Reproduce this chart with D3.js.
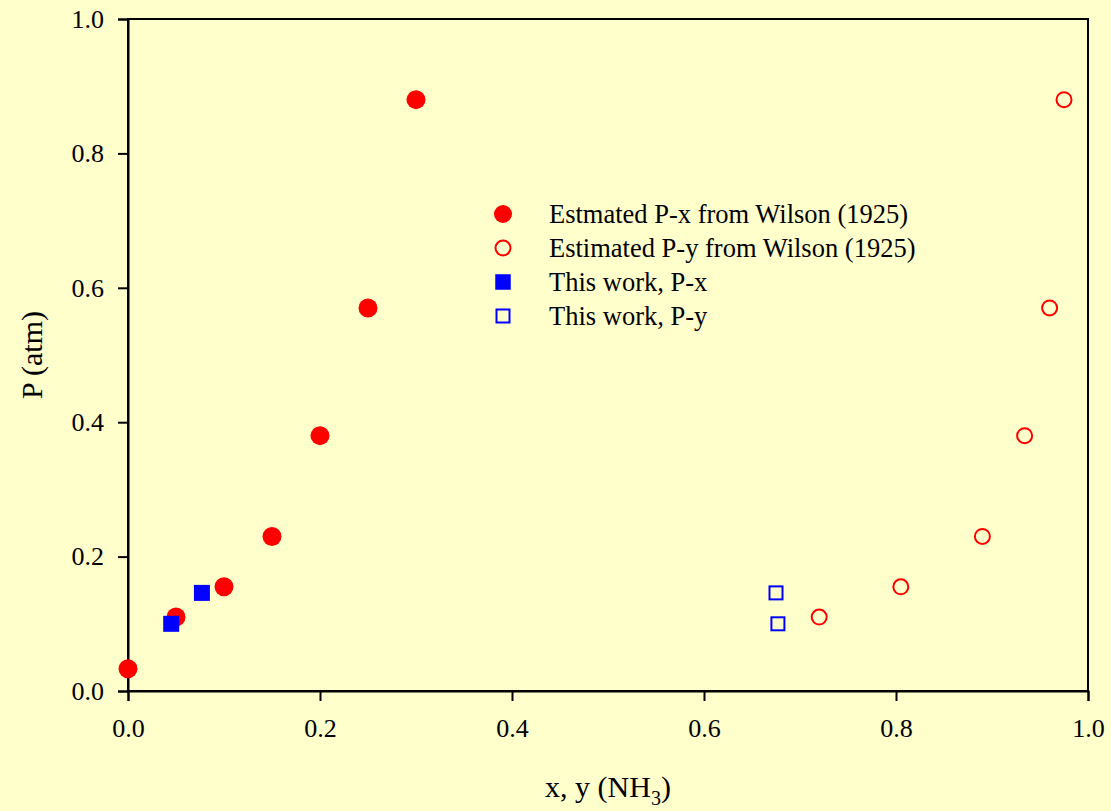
<!DOCTYPE html>
<html>
<head>
<meta charset="utf-8">
<script src="https://cdn.jsdelivr.net/npm/d3@7"></script>
<style>
  html, body { margin: 0; padding: 0; background: #ffffcc; }
  svg text { font-family: "Liberation Serif", "Times New Roman", serif; fill: #000; }
</style>
</head>
<body>
<div id="chart"></div>
<script>
// Wilson (1925) estimates
var wilsonPx = [[0, 0.033], [0.05, 0.11], [0.1, 0.155], [0.15, 0.23], [0.2, 0.38], [0.25, 0.57], [0.3, 0.88]];
var wilsonPy = [[0.72, 0.11], [0.805, 0.155], [0.89, 0.23], [0.934, 0.38], [0.96, 0.57], [0.975, 0.88]];
// this work
var workPx = [[0.045, 0.10], [0.077, 0.146]];
var workPy = [[0.677, 0.10], [0.675, 0.146]];

var xTicks = [0, 0.2, 0.4, 0.6, 0.8, 1.0];
var yTicks = [0, 0.2, 0.4, 0.6, 0.8, 1.0];
var legendLabels = ["Estmated P-x from Wilson (1925)", "Estimated P-y from Wilson (1925)", "This work, P-x", "This work, P-y"];

(function () {
  var W = 1111, H = 811,
    margin = {top: 19, right: 23, bottom: 120, left: 128},
    w = W - margin.left - margin.right,
    h = H - margin.top - margin.bottom;

  var svg = d3.select("#chart").append("svg")
    .attr("width", W)
    .attr("height", H);

  svg.append("rect").attr("width", W).attr("height", H).attr("fill", "#ffffcc");

  var g = svg.append("g").attr("transform", "translate(" + margin.left + "," + margin.top + ")");

  var x = d3.scaleLinear().domain([0, 1]).range([0, w]);
  var y = d3.scaleLinear().domain([0, 1]).range([h, 0]);

  // frame
  g.append("rect")
    .attr("width", w).attr("height", h)
    .attr("fill", "none").attr("stroke", "#000").attr("stroke-width", 2);

  var xAxis = g.append("g")
    .attr("transform", "translate(0," + h + ")")
    .call(d3.axisBottom(x).tickValues(xTicks).tickFormat(d3.format(".1f")).tickSize(10).tickPadding(18));
  var yAxis = g.append("g")
    .call(d3.axisLeft(y).tickValues(yTicks).tickFormat(d3.format(".1f")).tickSize(10).tickPadding(14));

  [xAxis, yAxis].forEach(function (a) {
    a.select(".domain").attr("stroke-width", 2);
    a.selectAll(".tick line").attr("stroke-width", 2);
    a.selectAll("text").attr("font-size", 26).attr("font-family", "Liberation Serif");
  });

  // axis titles
  var xt = svg.append("text")
    .attr("x", margin.left + w / 2)
    .attr("y", 797)
    .attr("text-anchor", "middle")
    .attr("font-size", 30);
  xt.append("tspan").text("x, y (NH");
  xt.append("tspan").attr("font-size", 20).attr("dy", 8).text("3");
  xt.append("tspan").attr("dy", -8).text(")");

  svg.append("text")
    .attr("transform", "translate(42," + (margin.top + h / 2) + ") rotate(-90)")
    .attr("text-anchor", "middle")
    .attr("font-size", 30)
    .text("P (atm)");

  // markers
  function circles(data, filled) {
    g.append("g").selectAll("circle").data(data).join("circle")
      .attr("cx", function (d) { return x(d[0]); })
      .attr("cy", function (d) { return y(d[1]); })
      .attr("r", filled ? 9.5 : 7.5)
      .attr("fill", filled ? "#ff0000" : "none")
      .attr("stroke", filled ? "none" : "#ff0000")
      .attr("stroke-width", 2);
  }
  function squares(data, filled) {
    var s = filled ? 16 : 13;
    g.append("g").selectAll("rect").data(data).join("rect")
      .attr("x", function (d) { return x(d[0]) - s / 2; })
      .attr("y", function (d) { return y(d[1]) - s / 2; })
      .attr("width", s).attr("height", s)
      .attr("fill", filled ? "#0000ff" : "none")
      .attr("stroke", filled ? "none" : "#0000ff")
      .attr("stroke-width", 2);
  }
  circles(wilsonPx, true);
  circles(wilsonPy, false);
  squares(workPx, true);
  squares(workPy, false);

  // legend
  var leg = svg.append("g").attr("transform", "translate(503,214)");
  var rowH = 34;
  legendLabels.forEach(function (lab, i) {
    var row = leg.append("g").attr("transform", "translate(0," + i * rowH + ")");
    if (i < 2) {
      row.append("circle").attr("r", i === 0 ? 9 : 7.5)
        .attr("fill", i === 0 ? "#ff0000" : "none")
        .attr("stroke", i === 0 ? "none" : "#ff0000").attr("stroke-width", 2);
    } else {
      var s = i === 2 ? 15.5 : 13;
      row.append("rect").attr("x", -s / 2).attr("y", -s / 2).attr("width", s).attr("height", s)
        .attr("fill", i === 2 ? "#0000ff" : "none")
        .attr("stroke", i === 2 ? "none" : "#0000ff").attr("stroke-width", 2);
    }
    row.append("text").attr("x", 46).attr("y", 9).attr("font-size", 26.5).text(lab);
  });
}());
</script>
</body>
</html>
